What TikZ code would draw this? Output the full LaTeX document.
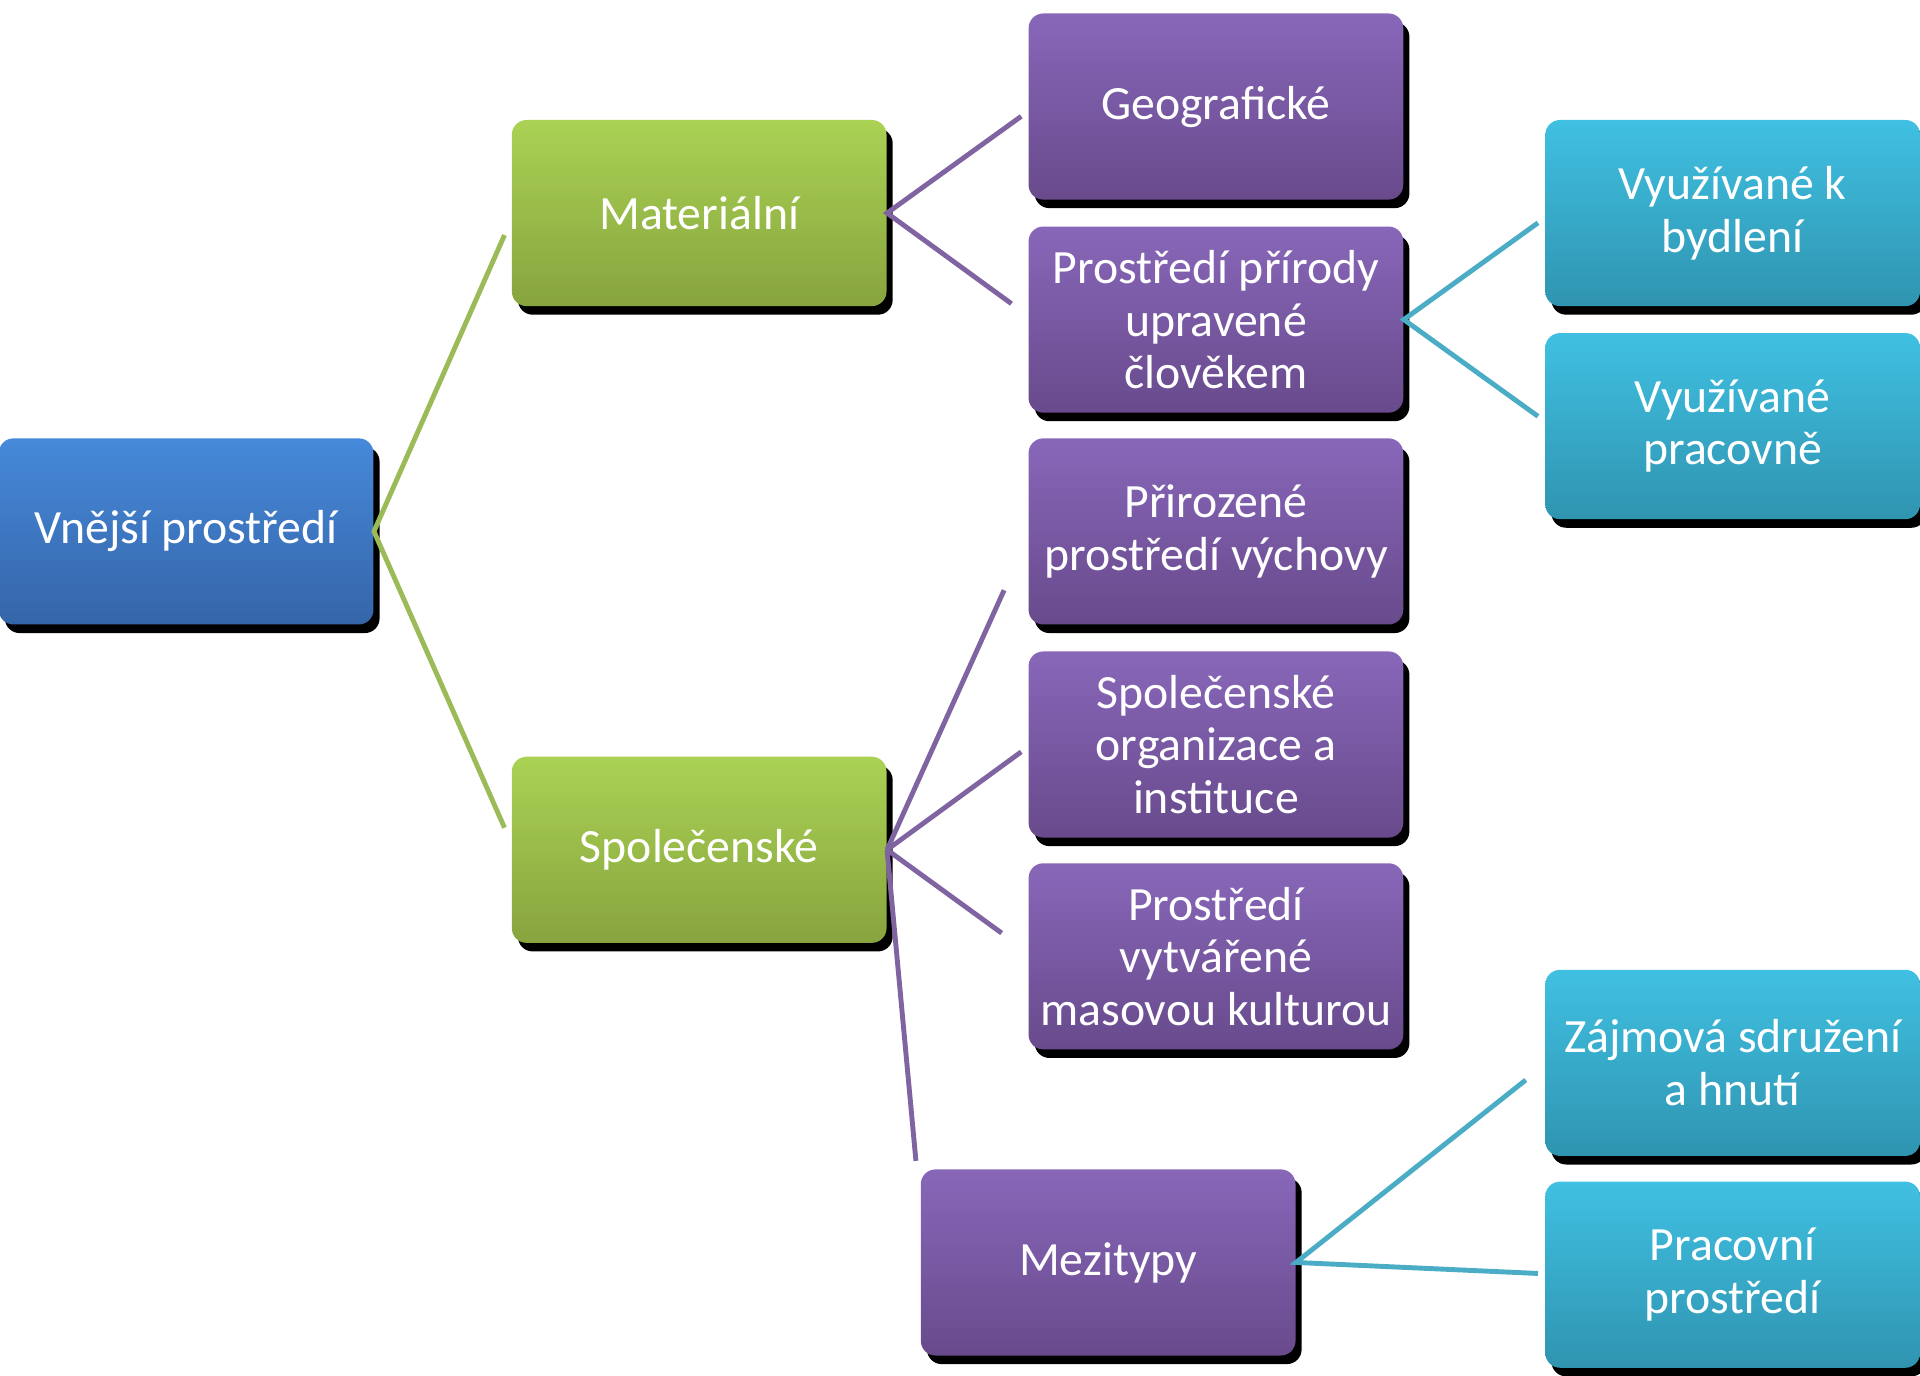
\documentclass[tikz,border=0pt]{standalone}
\usepackage{fontspec}
\setmainfont{Carlito}
\usetikzlibrary{shadows}
\definecolor{blueT}{HTML}{4689DA}
\definecolor{blueB}{HTML}{3565A8}
\definecolor{greenT}{HTML}{AAD254}
\definecolor{greenB}{HTML}{87A43E}
\definecolor{purpT}{HTML}{8867B9}
\definecolor{purpB}{HTML}{684A8C}
\definecolor{tealT}{HTML}{40C0E2}
\definecolor{tealB}{HTML}{2F94B0}
\definecolor{lineG}{HTML}{9BBB59}
\definecolor{lineP}{HTML}{8064A2}
\definecolor{lineT}{HTML}{4BACC6}
\tikzset{
  treenode/.style = {align=flush center, inner sep=0pt, text=white,
    font=\fontsize{19.5}{21.5}\selectfont, rounded corners=6pt,
    minimum width=153pt, minimum height=76pt, text width=152pt,
    drop shadow={shadow xshift=2.5pt, shadow yshift=-3.5pt, fill=black, opacity=1}},
  box_b/.style = {treenode, top color=blueT, bottom color=blueB},
  box_g/.style = {treenode, top color=greenT, bottom color=greenB},
  box_p/.style = {treenode, top color=purpT, bottom color=purpB},
  box_t/.style = {treenode, top color=tealT, bottom color=tealB},
  edge_g/.style = {draw=lineG, line width=2pt},
  edge_p/.style = {draw=lineP, line width=2pt},
  edge_t/.style = {draw=lineT, line width=2pt}}

\begin{document}
\begin{tikzpicture}[x=0.5pt, y=-0.5pt]
\useasboundingbox (0,0) rectangle (1568,1123);

% boxes
\node [box_b] (vnj) at (152,434) {Vnější prostředí};
\node [box_g] (mat) at (571,174) {Materiální};
\node [box_g] (spol) at (571,694) {Společenské};
\node [box_p] (geo) at (993,87) {Geografické};
\node [box_p] (upr) at (993,261) {Prostředí přírody\\upravené\\člověkem};
\node [box_p] (pri) at (993,434) {Přirozené\\prostředí výchovy};
\node [box_p] (org) at (993,608) {Společenské\\organizace a\\instituce};
\node [box_p] (kul) at (993,781) {Prostředí\\vytvářené\\masovou kulturou};
\node [box_p] (mez) at (905,1031) {Mezitypy};
\node [box_t] (byd) at (1415,174) {Využívané k\\bydlení};
\node [box_t] (prc) at (1415,348) {Využívané\\pracovně};
\node [box_t] (zaj) at (1415,868) {Zájmová sdružení\\a hnutí};
\node [box_t] (pro) at (1415,1041) {Pracovní\\prostředí};

% free ends of the connectors
\coordinate (e_mat) at (412,192);
\coordinate (e_spol) at (412,676);
\coordinate (e_geo) at (834,95);
\coordinate (e_upr) at (826,248);
\coordinate (e_byd) at (1256,182);
\coordinate (e_prc) at (1256,340);
\coordinate (e_pri) at (820,482);
\coordinate (e_org) at (834,614);
\coordinate (e_kul) at (818,762);
\coordinate (e_mez) at (748,948);
\coordinate (e_zaj) at (1246,882);
\coordinate (e_pro) at (1256,1040);

% connectors
\draw [edge_g] (e_mat) -- (vnj.east) -- (e_spol);
\draw [edge_p] (e_geo) -- (mat.east) -- (e_upr);
\draw [edge_t] (e_byd) -- (upr.east) -- (e_prc);
\draw [edge_p] (spol.east) -- (e_pri);
\draw [edge_p] (spol.east) -- (e_org);
\draw [edge_p] (spol.east) -- (e_kul);
\draw [edge_p] (spol.east) -- (e_mez);
\draw [edge_t] (e_zaj) -- (mez.east) -- (e_pro);
\end{tikzpicture}
\end{document}
